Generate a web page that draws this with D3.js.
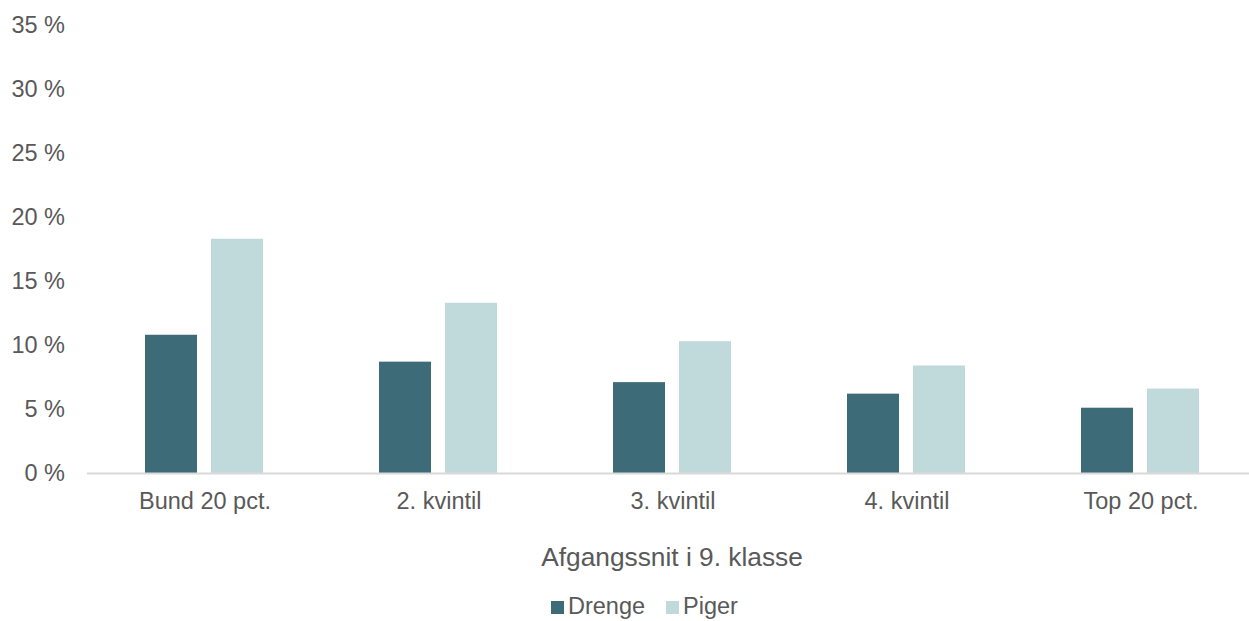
<!DOCTYPE html>
<html>
<head>
<meta charset="utf-8">
<script src="https://cdn.jsdelivr.net/npm/d3@7"></script>
<style>
body { margin: 0; background: #fff; }
svg text { font-family: "Liberation Sans", Arial, sans-serif; fill: #595959; }
</style>
</head>
<body>
<svg id="chart" width="1249" height="621"></svg>
<script>
var categories = ["Bund 20 pct.", "2. kvintil", "3. kvintil", "4. kvintil", "Top 20 pct."];
var keys = ["Drenge", "Piger"];
var drenge = [10.8, 8.7, 7.1, 6.2, 5.1];
var piger = [18.3, 13.3, 10.3, 8.4, 6.6];
var yTicks = [0, 5, 10, 15, 20, 25, 30, 35];
var xTitle = "Afgangssnit i 9. klasse";

var svg = d3.select("#chart");
var plotLeft = 88, plotRight = 1258, plotTop = 25, plotBottom = 473;

var x0 = d3.scaleBand()
  .domain(categories)
  .range([plotLeft, plotRight]);

// bars sit inside each group with a small gap
var x1 = d3.scaleBand()
  .domain(keys)
  .range([57, 175])
  .paddingInner(14 / 66);

var y = d3.scaleLinear()
  .domain([0, 35])
  .range([plotBottom, plotTop]);

var z = d3.scaleOrdinal()
  .domain(keys)
  .range(["#3d6b77", "#c0d9db"]);

var data = categories.map(function(c, i) {
  return {cat: c, Drenge: drenge[i], Piger: piger[i]};
});

// y tick labels (no gridlines)
svg.append("g")
  .selectAll("text")
  .data(yTicks)
  .enter().append("text")
  .attr("x", 65)
  .attr("y", function(d) { return y(d); })
  .attr("dy", "0.35em")
  .attr("text-anchor", "end")
  .attr("font-size", 23.5)
  .text(function(d) { return d + " %"; });

// bars
svg.append("g")
  .selectAll("g")
  .data(data)
  .enter().append("g")
  .attr("transform", function(d) { return "translate(" + x0(d.cat) + ",0)"; })
  .selectAll("rect")
  .data(function(d) { return keys.map(function(k) { return {key: k, val: d[k]}; }); })
  .enter().append("rect")
  .attr("x", function(d) { return x1(d.key); })
  .attr("y", function(d) { return y(d.val); })
  .attr("width", x1.bandwidth())
  .attr("height", function(d) { return plotBottom - y(d.val); })
  .attr("fill", function(d) { return z(d.key); });

// x axis line
svg.append("line")
  .attr("x1", plotLeft - 1)
  .attr("x2", 1249)
  .attr("y1", plotBottom + 0.5)
  .attr("y2", plotBottom + 0.5)
  .attr("stroke", "#d9d9d9")
  .attr("stroke-width", 2);

// category labels
svg.append("g")
  .selectAll("text")
  .data(categories)
  .enter().append("text")
  .attr("x", function(d) { return x0(d) + x0.bandwidth() / 2; })
  .attr("y", 509)
  .attr("text-anchor", "middle")
  .attr("font-size", 23.5)
  .text(function(d) { return d; });

// axis title
svg.append("text")
  .attr("x", 672)
  .attr("y", 566)
  .attr("text-anchor", "middle")
  .attr("font-size", 26.3)
  .text(xTitle);

// legend
var legendX = [551, 666];
var legend = svg.append("g")
  .selectAll("g")
  .data(keys)
  .enter().append("g")
  .attr("transform", function(d, i) { return "translate(" + legendX[i] + ",601)"; });

legend.append("rect")
  .attr("width", 13)
  .attr("height", 13)
  .attr("fill", z);

legend.append("text")
  .attr("x", 17)
  .attr("y", 13)
  .attr("font-size", 23.5)
  .text(function(d) { return d; });
</script>
</body>
</html>
